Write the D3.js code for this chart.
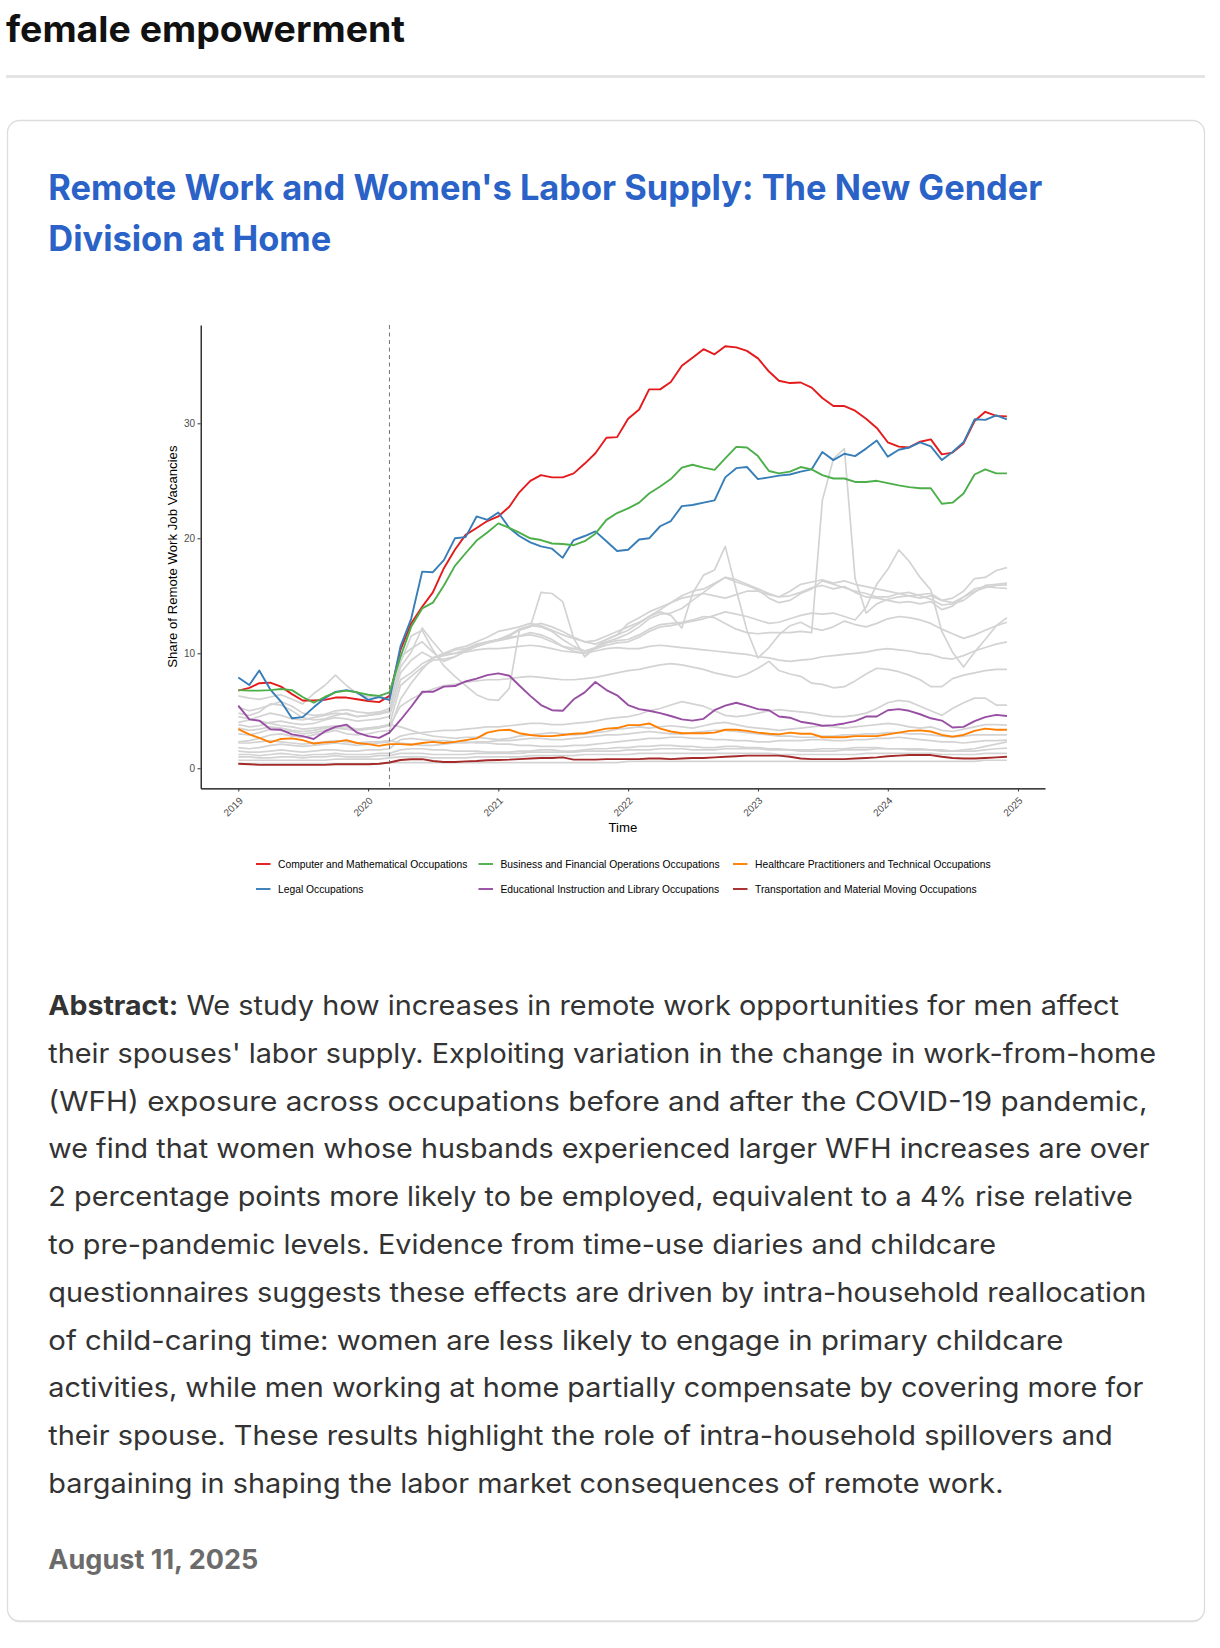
<!DOCTYPE html>
<html><head><meta charset="utf-8">
<script src="https://cdn.jsdelivr.net/npm/d3@7"></script>
<style>
html,body{margin:0;padding:0;background:#fff;}
svg{display:block;}
</style></head><body>
<svg id="page" width="1220" height="1648"></svg>
<script>
// ---------------- DATA ----------------
const months = d3.utcMonth.range(new Date(Date.UTC(2019,0,1)), new Date(Date.UTC(2025,0,1)));
const yearTicks = [2019,2020,2021,2022,2023,2024,2025];
const yTicks = [0,10,20,30];
const covidMonth = "2020-03";

const seriesNames = [
  "Computer and Mathematical Occupations",
  "Legal Occupations",
  "Business and Financial Operations Occupations",
  "Educational Instruction and Library Occupations",
  "Healthcare Practitioners and Technical Occupations",
  "Transportation and Material Moving Occupations"
];
const seriesColors = ["#E41A1C","#377EB8","#4DAF4A","#984EA3","#FF7F00","#A52A2A"];

const computerMath = [6.75,7.0,7.4,7.45,7.1,6.45,5.9,5.9,5.95,6.15,6.15,6.0,
  5.85,5.75,6.3,10.3,12.6,14.05,15.3,17.4,19.0,20.3,20.9,21.5,
  21.9,22.75,24.0,25.0,25.5,25.3,25.3,25.65,26.5,27.4,28.75,28.8,
  30.4,31.2,32.95,32.95,33.6,35.0,35.7,36.45,36.0,36.7,36.6,36.3,
  35.65,34.5,33.7,33.5,33.55,33.1,32.2,31.5,31.5,31.1,30.4,29.6,
  28.35,27.97,27.9,28.4,28.6,27.3,27.45,28.25,30.2,31.0,30.65,30.6];
const legal = [7.9,7.25,8.5,6.85,5.8,4.35,4.45,5.3,6.1,6.65,6.8,6.6,
  5.95,6.2,5.95,10.6,13.0,17.1,17.05,18.1,20.0,20.1,21.9,21.6,
  22.25,20.9,20.2,19.65,19.3,19.1,18.3,19.85,20.2,20.6,19.75,18.9,
  19.0,19.9,20.0,21.05,21.5,22.8,22.9,23.1,23.3,25.3,26.1,26.2,
  25.15,25.3,25.45,25.55,25.8,26.0,27.5,26.8,27.35,27.15,27.8,28.5,
  27.1,27.7,27.9,28.35,28.0,26.8,27.5,28.35,30.35,30.3,30.7,30.35];
const business = [6.8,6.75,6.75,6.8,6.9,6.8,6.2,5.7,6.2,6.6,6.75,6.6,
  6.4,6.3,6.6,9.7,12.3,13.9,14.4,15.9,17.6,18.7,19.8,20.5,
  21.3,20.9,20.5,20.0,19.85,19.55,19.5,19.4,19.75,20.4,21.6,22.2,
  22.6,23.1,23.9,24.5,25.15,26.15,26.4,26.15,25.95,26.95,27.95,27.9,
  27.15,25.85,25.65,25.8,26.2,26.0,25.5,25.2,25.2,24.9,24.9,25.0,
  24.8,24.6,24.45,24.35,24.35,23.0,23.1,23.9,25.55,26.0,25.65,25.65];
const education = [5.45,4.25,4.15,3.4,3.35,2.95,2.8,2.55,3.2,3.6,3.8,3.1,
  2.8,2.65,3.1,4.2,5.35,6.65,6.65,7.1,7.15,7.55,7.8,8.1,
  8.25,8.05,7.2,6.3,5.5,5.05,5.0,6.0,6.6,7.5,6.8,6.35,
  5.5,5.15,5.0,4.8,4.55,4.25,4.15,4.3,5.05,5.45,5.7,5.45,
  5.15,5.05,4.5,4.4,4.05,3.9,3.7,3.75,3.9,4.1,4.5,4.5,
  5.05,5.15,5.0,4.7,4.35,4.15,3.55,3.6,4.1,4.45,4.65,4.55];
const healthcare = [3.4,2.95,2.65,2.25,2.55,2.6,2.45,2.15,2.25,2.3,2.45,2.2,
  2.1,1.95,2.1,2.1,2.05,2.2,2.3,2.2,2.3,2.45,2.6,3.1,
  3.3,3.35,3.05,2.9,2.8,2.8,2.9,3.0,3.05,3.25,3.45,3.5,
  3.75,3.75,3.9,3.45,3.2,3.05,3.05,3.05,3.1,3.35,3.35,3.25,
  3.1,3.0,2.95,3.1,3.0,3.0,2.7,2.7,2.7,2.8,2.8,2.8,
  2.95,3.1,3.25,3.3,3.2,2.9,2.75,2.9,3.25,3.45,3.35,3.35];
const transportation = [0.4,0.35,0.3,0.3,0.3,0.3,0.3,0.3,0.3,0.35,0.35,0.35,
  0.35,0.4,0.5,0.72,0.78,0.8,0.63,0.55,0.55,0.6,0.63,0.7,
  0.72,0.75,0.8,0.85,0.9,0.9,0.95,0.75,0.75,0.75,0.8,0.8,
  0.8,0.8,0.85,0.85,0.8,0.85,0.9,0.9,0.95,1.0,1.05,1.1,
  1.1,1.1,1.1,1.0,0.85,0.8,0.8,0.8,0.8,0.85,0.9,0.95,
  1.05,1.1,1.15,1.15,1.15,1.0,0.9,0.85,0.85,0.9,0.95,1.0];

// other occupation groups (grey background lines)
const grayA = [4.0,4.2,4.5,4.8,4.6,4.3,4.2,4.4,4.6,4.8,4.7,4.5,4.6,4.7,4.9,
  8.3,9.4,10.1,9.6,10.0,10.4,10.6,11.0,11.4,
  11.9,12.1,12.3,12.6,12.4,12.0,11.6,11.3,11.0,10.8,11.2,11.6,
  12.0,12.6,13.2,13.8,14.4,15.0,15.4,15.6,16.1,16.6,16.4,16.0,
  15.6,15.2,14.9,15.4,16.0,16.2,16.4,16.1,16.3,16.0,15.8,15.6,
  15.4,15.2,15.0,14.8,15.0,14.6,14.8,15.4,16.5,16.6,17.2,17.45];
const grayB = [4.8,4.6,4.9,5.6,5.5,5.0,4.4,4.2,4.3,4.6,4.8,4.5,4.6,4.8,5.0,
  9.7,10.4,11.0,10.1,9.3,9.7,10.2,10.6,10.9,
  11.2,11.5,12.0,12.4,12.3,11.9,11.2,10.6,10.2,10.5,11.0,11.3,
  11.7,12.3,13.0,13.4,13.5,13.9,14.6,15.3,16.0,16.6,16.2,15.9,
  15.5,14.8,14.4,14.6,15.2,15.6,16.3,16.0,15.7,15.4,15.2,14.9,
  14.9,15.2,15.3,15.0,14.7,14.2,14.3,14.6,15.3,15.9,16.0,16.1];
const grayC = [3.5,3.3,3.4,3.6,3.5,3.3,3.2,3.3,3.5,3.6,3.4,3.3,3.5,3.6,3.8,
  7.2,8.0,8.8,9.4,9.5,9.7,10.2,10.6,10.9,
  11.1,11.3,11.5,11.8,11.6,11.2,10.6,10.2,10.0,10.4,10.9,11.1,
  11.2,11.6,12.1,12.5,12.6,12.7,12.9,13.2,13.1,12.6,12.1,11.8,
  11.7,11.8,11.8,11.8,11.9,11.8,23.3,26.9,27.8,16.5,13.5,14.3,
  14.7,14.9,15.0,15.1,15.2,14.6,14.4,14.9,15.6,15.8,15.7,15.65];
const grayD = [5.3,5.0,5.2,5.5,5.8,5.4,4.8,4.6,4.7,5.0,5.1,4.9,4.8,4.9,5.2,
  8.8,10.1,12.2,11.0,9.9,10.3,10.4,10.8,11.0,
  11.2,11.4,11.5,11.6,11.4,11.0,10.6,10.4,10.2,10.4,10.7,10.9,
  11.0,11.4,11.9,12.3,12.4,12.6,12.8,13.0,13.3,13.6,13.4,13.2,
  12.9,12.6,12.7,13.0,13.3,13.5,13.4,13.5,13.2,12.9,14.0,16.0,
  17.3,19.0,18.0,16.6,15.5,11.9,10.1,8.8,10.1,11.2,12.4,13.1];
const grayE = [2.3,2.4,2.6,2.9,3.0,2.8,2.7,2.9,3.1,3.3,3.0,2.9,3.0,3.2,3.3,
  6.0,7.4,8.6,9.6,9.9,10.0,10.3,10.7,11.0,
  11.2,11.6,12.1,12.4,12.6,12.3,11.9,11.4,11.0,11.1,11.5,11.9,
  12.3,12.7,13.2,13.6,13.3,12.2,15.2,16.8,17.25,19.3,15.5,12.0,
  9.6,10.5,11.6,12.4,12.7,12.2,12.0,12.3,12.8,12.5,12.3,12.6,
  13.0,13.2,13.1,12.9,12.6,12.1,11.7,11.3,11.6,12.0,12.4,12.7];
const grayF = [3.8,3.6,3.7,4.0,4.1,3.9,3.8,3.9,4.2,4.4,4.3,4.1,4.2,4.3,4.5,
  7.7,8.3,9.1,9.6,9.8,10.0,10.1,10.3,10.4,
  10.4,10.5,10.6,10.7,10.6,10.4,10.2,10.1,10.0,10.2,10.4,10.5,
  10.4,10.4,10.6,10.7,10.6,10.5,10.4,10.3,10.2,10.1,10.0,9.9,
  9.7,9.6,9.4,9.3,9.4,9.5,9.7,9.8,9.9,10.0,10.1,10.3,
  10.4,10.3,10.2,10.0,9.9,9.6,9.5,9.8,10.2,10.5,10.8,11.0];
const grayG = [3.0,2.9,3.1,3.4,3.3,3.2,3.0,3.1,3.3,3.5,3.4,3.3,3.4,3.5,3.7,
  5.4,6.0,6.5,6.9,7.2,7.3,7.5,7.6,7.7,
  7.7,7.8,7.9,8.0,7.9,7.8,7.7,7.7,7.8,7.9,8.1,8.3,
  8.5,8.6,8.8,9.0,9.1,9.0,8.8,8.6,8.3,8.1,7.9,8.2,
  8.7,9.3,8.5,8.2,8.0,7.4,7.3,7.0,7.1,7.6,8.2,8.7,
  8.6,8.4,8.1,7.7,7.1,7.1,7.8,8.1,8.3,8.5,8.6,8.6];
const grayH = [1.8,1.7,1.8,2.0,2.1,2.0,1.9,2.0,2.1,2.2,2.1,2.0,2.1,2.2,2.3,
  2.8,3.0,3.1,3.2,3.3,3.3,3.4,3.5,3.6,
  3.6,3.7,3.8,3.9,3.9,3.8,3.8,3.9,4.0,4.1,4.3,4.4,
  4.5,4.7,5.0,5.2,5.5,5.8,5.6,5.4,5.0,4.6,4.5,4.6,
  4.8,5.0,5.1,5.0,4.9,4.8,4.6,4.5,4.5,4.6,4.8,5.2,
  5.7,5.9,5.8,5.4,5.0,4.6,5.2,5.7,6.1,6.1,5.5,5.5];
const grayI = [4.5,4.3,4.1,3.9,3.7,3.6,3.4,3.5,3.6,3.7,3.6,3.4,3.5,3.6,3.8,
  3.6,3.3,3.0,2.8,2.7,2.6,2.7,2.7,2.6,
  2.5,2.6,2.8,2.9,3.0,3.1,3.0,2.9,3.0,3.1,3.2,3.4,
  3.5,3.6,3.5,3.6,3.7,3.6,3.5,3.7,3.9,4.0,3.8,3.6,
  3.5,3.4,3.3,3.4,3.5,3.6,3.7,3.6,3.5,3.6,3.7,3.8,
  3.9,3.8,3.6,3.5,3.6,3.3,3.2,3.4,3.6,3.8,3.8,3.75];
const grayJ = [2.2,2.2,2.3,2.4,2.3,2.2,2.1,2.2,2.3,2.4,2.3,2.2,2.3,2.3,2.4,
  2.2,2.1,2.0,2.0,2.1,2.2,2.2,2.3,2.3,
  2.4,2.4,2.5,2.6,2.6,2.5,2.5,2.6,2.7,2.8,2.9,2.9,
  3.0,3.1,3.2,3.1,3.0,3.0,3.1,3.2,3.3,3.3,3.2,3.1,
  3.0,2.9,2.8,2.8,2.7,2.7,2.8,2.8,2.9,2.9,3.0,3.0,
  3.1,3.1,3.0,3.0,2.9,2.8,2.7,2.8,2.9,2.9,2.9,2.9];
const grayK = [1.5,1.4,1.4,1.5,1.6,1.5,1.4,1.5,1.6,1.6,1.5,1.5,1.6,1.6,1.7,
  2.5,2.6,2.5,2.4,2.4,2.3,2.3,2.2,2.2,
  2.1,2.1,2.0,2.0,1.9,1.9,1.9,2.0,2.0,2.1,2.2,2.3,
  2.4,2.5,2.6,2.6,2.7,2.7,2.6,2.6,2.5,2.5,2.4,2.4,
  2.3,2.3,2.4,2.4,2.4,2.5,2.5,2.4,2.4,2.5,2.5,2.6,
  2.6,2.7,2.6,2.5,2.4,2.3,2.3,2.2,2.3,2.4,2.4,2.45];
const grayL = [1.2,1.2,1.1,1.2,1.3,1.2,1.1,1.2,1.2,1.3,1.2,1.2,1.2,1.3,1.3,
  1.6,1.7,1.7,1.6,1.6,1.5,1.5,1.5,1.4,
  1.4,1.4,1.5,1.5,1.6,1.6,1.5,1.5,1.6,1.7,1.7,1.8,
  1.8,1.9,1.9,2.0,2.0,1.9,1.9,1.8,1.8,1.9,1.9,1.8,
  1.8,1.7,1.7,1.6,1.6,1.6,1.7,1.7,1.7,1.8,1.8,1.8,
  1.7,1.7,1.6,1.6,1.6,1.5,1.5,1.6,1.7,1.9,2.1,2.3];
const grayM = [1.0,1.0,0.9,0.9,1.0,1.0,0.9,1.0,1.0,1.1,1.0,1.0,1.0,1.1,1.1,
  1.3,1.3,1.3,1.2,1.2,1.2,1.2,1.3,1.3,
  1.3,1.3,1.3,1.4,1.4,1.4,1.4,1.4,1.5,1.5,1.5,1.5,
  1.6,1.6,1.6,1.7,1.7,1.7,1.6,1.6,1.6,1.7,1.7,1.7,
  1.7,1.6,1.6,1.6,1.5,1.5,1.5,1.5,1.6,1.6,1.6,1.7,
  1.7,1.7,1.7,1.7,1.6,1.6,1.5,1.5,1.5,1.6,1.7,1.75];
const grayN = [0.7,0.7,0.7,0.7,0.7,0.7,0.7,0.7,0.7,0.8,0.8,0.8,0.8,0.8,0.9,
  1.0,1.0,1.0,0.9,0.9,0.9,0.9,1.0,1.0,
  1.0,1.0,1.0,1.1,1.1,1.1,1.1,1.1,1.2,1.2,1.2,1.2,
  1.2,1.3,1.3,1.3,1.3,1.3,1.3,1.3,1.3,1.3,1.3,1.3,
  1.3,1.3,1.2,1.2,1.2,1.2,1.2,1.2,1.2,1.2,1.3,1.3,
  1.3,1.3,1.3,1.3,1.3,1.2,1.2,1.2,1.2,1.3,1.3,1.3];
const grayO = [0.4,0.4,0.4,0.4,0.4,0.4,0.4,0.4,0.4,0.4,0.4,0.4,0.4,0.4,0.5,
  0.5,0.5,0.5,0.5,0.5,0.5,0.5,0.5,0.5,
  0.5,0.5,0.5,0.5,0.5,0.5,0.5,0.5,0.5,0.5,0.5,0.5,
  0.6,0.6,0.6,0.6,0.6,0.6,0.6,0.6,0.6,0.6,0.6,0.6,
  0.6,0.6,0.6,0.6,0.6,0.6,0.6,0.6,0.6,0.6,0.6,0.6,
  0.6,0.6,0.6,0.6,0.6,0.6,0.6,0.6,0.6,0.7,0.7,0.7];
const grayP = [6.3,6.1,6.0,6.2,6.4,6.0,5.6,6.5,7.2,8.1,7.2,6.5,6.2,6.3,5.9,
  9.2,11.5,12.0,10.3,8.9,8.0,7.2,6.4,6.0,
  5.9,6.95,12.0,12.3,15.3,15.2,14.5,11.3,9.7,10.5,11.2,11.6,
  12.6,13.1,13.6,14.0,14.4,14.8,15.0,15.2,15.0,14.8,15.1,15.4,
  15.4,15.1,14.9,15.0,15.3,15.7,15.9,15.6,15.8,15.3,14.9,14.8,
  14.6,14.4,14.5,14.3,14.5,13.8,14.1,14.9,15.4,15.7,15.9,15.95];

// page texts
const pageTitle = "female empowerment";
const cardTitleLines = ["Remote Work and Women's Labor Supply: The New Gender", "Division at Home"];
const abstractLabel = "Abstract:";
const abstractLines = [
  "We study how increases in remote work opportunities for men affect",
  "their spouses' labor supply. Exploiting variation in the change in work-from-home",
  "(WFH) exposure across occupations before and after the COVID-19 pandemic,",
  "we find that women whose husbands experienced larger WFH increases are over",
  "2 percentage points more likely to be employed, equivalent to a 4% rise relative",
  "to pre-pandemic levels. Evidence from time-use diaries and childcare",
  "questionnaires suggests these effects are driven by intra-household reallocation",
  "of child-caring time: women are less likely to engage in primary childcare",
  "activities, while men working at home partially compensate by covering more for",
  "their spouse. These results highlight the role of intra-household spillovers and",
  "bargaining in shaping the labor market consequences of remote work."
];
const dateText = "August 11, 2025";
const xTitle = "Time";
const yTitle = "Share of Remote Work Job Vacancies";

// ---------------- LAYOUT ----------------
const svg = d3.select("#page");
const pageFont = "Inter, 'Liberation Sans', sans-serif";
const chartFont = "'Liberation Sans', Arial, Helvetica, sans-serif";

svg.append("text").attr("x", 6).attr("y", 41.5)
  .attr("font-family", pageFont).attr("font-weight", 700).attr("font-size", 36)
  .attr("fill", "#111").attr("textLength", 399).attr("lengthAdjust", "spacingAndGlyphs")
  .text(pageTitle);
svg.append("rect").attr("x", 6).attr("y", 75).attr("width", 1199).attr("height", 3).attr("fill", "#e4e4e4");

// card
svg.append("rect").attr("x", 7.5).attr("y", 122).attr("width", 1197).attr("height", 1500.5).attr("rx", 12)
  .attr("fill", "#e9e9e9");
svg.append("rect").attr("x", 7.5).attr("y", 120.5).attr("width", 1197).attr("height", 1500.5).attr("rx", 12)
  .attr("fill", "#fff").attr("stroke", "#dddddd").attr("stroke-width", 1.3);

const titleWidths = [994, 283];
cardTitleLines.forEach((t, i) => {
  svg.append("text").attr("x", 48.3).attr("y", 199.5 + i * 51.5)
    .attr("font-family", pageFont).attr("font-weight", 700).attr("font-size", 35)
    .attr("fill", "#2a62c7").attr("textLength", titleWidths[i]).attr("lengthAdjust", "spacingAndGlyphs")
    .text(t);
});

// abstract
const absRight = [1119, 1156, 1147.5, 1149.6, 1132.8, 996, 1146.4, 1063.4, 1143.3, 1112.8, 1003.5];
svg.append("text").attr("x", 48.3).attr("y", 1015)
  .attr("font-family", pageFont).attr("font-weight", 700).attr("font-size", 27)
  .attr("fill", "#333").attr("textLength", 130).attr("lengthAdjust", "spacingAndGlyphs")
  .text(abstractLabel);
abstractLines.forEach((t, i) => {
  const x0 = i === 0 ? 186.4 : 48.3;
  svg.append("text").attr("x", x0).attr("y", 1015 + i * 47.8)
    .attr("font-family", pageFont).attr("font-weight", 400).attr("font-size", 27)
    .attr("fill", "#333").attr("textLength", absRight[i] - x0).attr("lengthAdjust", "spacingAndGlyphs")
    .text(t);
});
svg.append("text").attr("x", 48.3).attr("y", 1569)
  .attr("font-family", pageFont).attr("font-weight", 700).attr("font-size", 27)
  .attr("fill", "#6b6b6b").attr("textLength", 210).attr("lengthAdjust", "spacingAndGlyphs")
  .text(dateText);

// ---------------- CHART ----------------
const panel = {left: 200.7, right: 1045, top: 325, bottom: 788.3};
const x = d3.scaleUtc()
  .domain([new Date(Date.UTC(2018,8,17,7)), new Date(Date.UTC(2025,2,18))])
  .range([panel.left, panel.right]);
const y = d3.scaleLinear().domain([-1.74, 38.55]).range([panel.bottom, panel.top]);

const chart = svg.append("g");
const line = d3.line().x((d, i) => x(months[i])).y(d => y(d)).curve(d3.curveLinear);

const grays = [grayA, grayB, grayC, grayD, grayE, grayF, grayG, grayH, grayI, grayJ, grayK, grayL, grayM, grayN, grayO, grayP];
chart.append("g").selectAll("path").data(grays).join("path")
  .attr("d", line).attr("fill", "none").attr("stroke", "#d3d3d3")
  .attr("stroke-width", 1.7).attr("stroke-linejoin", "round");

const highlighted = [computerMath, legal, business, education, healthcare, transportation];
chart.append("g").selectAll("path").data(highlighted).join("path")
  .attr("d", line).attr("fill", "none").attr("stroke", (d, i) => seriesColors[i])
  .attr("stroke-width", 1.9).attr("stroke-linejoin", "round");

// covid line
const cm = d3.utcParse("%Y-%m")(covidMonth);
chart.append("line").attr("x1", x(cm)).attr("x2", x(cm))
  .attr("y1", panel.top).attr("y2", panel.bottom)
  .attr("stroke", "#666").attr("stroke-width", 0.9).attr("stroke-dasharray", "4,3.5");

// axes
const yAxis = chart.append("g").attr("transform", `translate(${panel.left},0)`)
  .call(d3.axisLeft(y).tickValues(yTicks).tickSize(3.2).tickSizeOuter(0).tickPadding(2.5));
const xAxis = chart.append("g").attr("transform", `translate(0,${panel.bottom})`)
  .call(d3.axisBottom(x).tickValues(yearTicks.map(yr => new Date(Date.UTC(yr,0,1))))
    .tickFormat(d3.utcFormat("%Y")).tickSize(3.2).tickSizeOuter(0));
[yAxis, xAxis].forEach(a => {
  a.select(".domain").attr("stroke", "#000").attr("stroke-width", 1.2);
  a.selectAll(".tick line").attr("stroke", "#333").attr("stroke-width", 1);
  a.selectAll(".tick text").attr("fill", "#4d4d4d").attr("font-size", 10).attr("font-family", chartFont);
});
xAxis.selectAll(".tick text").attr("x", 0).attr("y", 0).attr("dy", 0)
  .attr("text-anchor", "end").attr("transform", "translate(4.8,13) rotate(-45)");

chart.append("text").attr("x", (panel.left + panel.right) / 2).attr("y", 832)
  .attr("text-anchor", "middle").attr("font-family", chartFont).attr("font-size", 13.2).attr("fill", "#000")
  .text(xTitle);
chart.append("text").attr("transform", `translate(177.3,${(panel.top + panel.bottom) / 2}) rotate(-90)`)
  .attr("text-anchor", "middle").attr("font-family", chartFont).attr("font-size", 13.2).attr("fill", "#000")
  .text(yTitle);

// legend (2 rows, filled by column)
const legendCols = [256, 478.5, 733];
const legendRows = [864, 889];
const legend = chart.append("g");
seriesNames.forEach((name, i) => {
  const col = Math.floor(i / 2), row = i % 2;
  const g = legend.append("g").attr("transform", `translate(${legendCols[col]},${legendRows[row]})`);
  g.append("line").attr("x1", 0).attr("x2", 14.5).attr("y1", 0).attr("y2", 0)
    .attr("stroke", seriesColors[i]).attr("stroke-width", 1.9);
  g.append("text").attr("x", 22).attr("y", 3.6).attr("font-family", chartFont).attr("font-size", 10.3)
    .attr("fill", "#000").text(name);
});
</script>
</body></html>
